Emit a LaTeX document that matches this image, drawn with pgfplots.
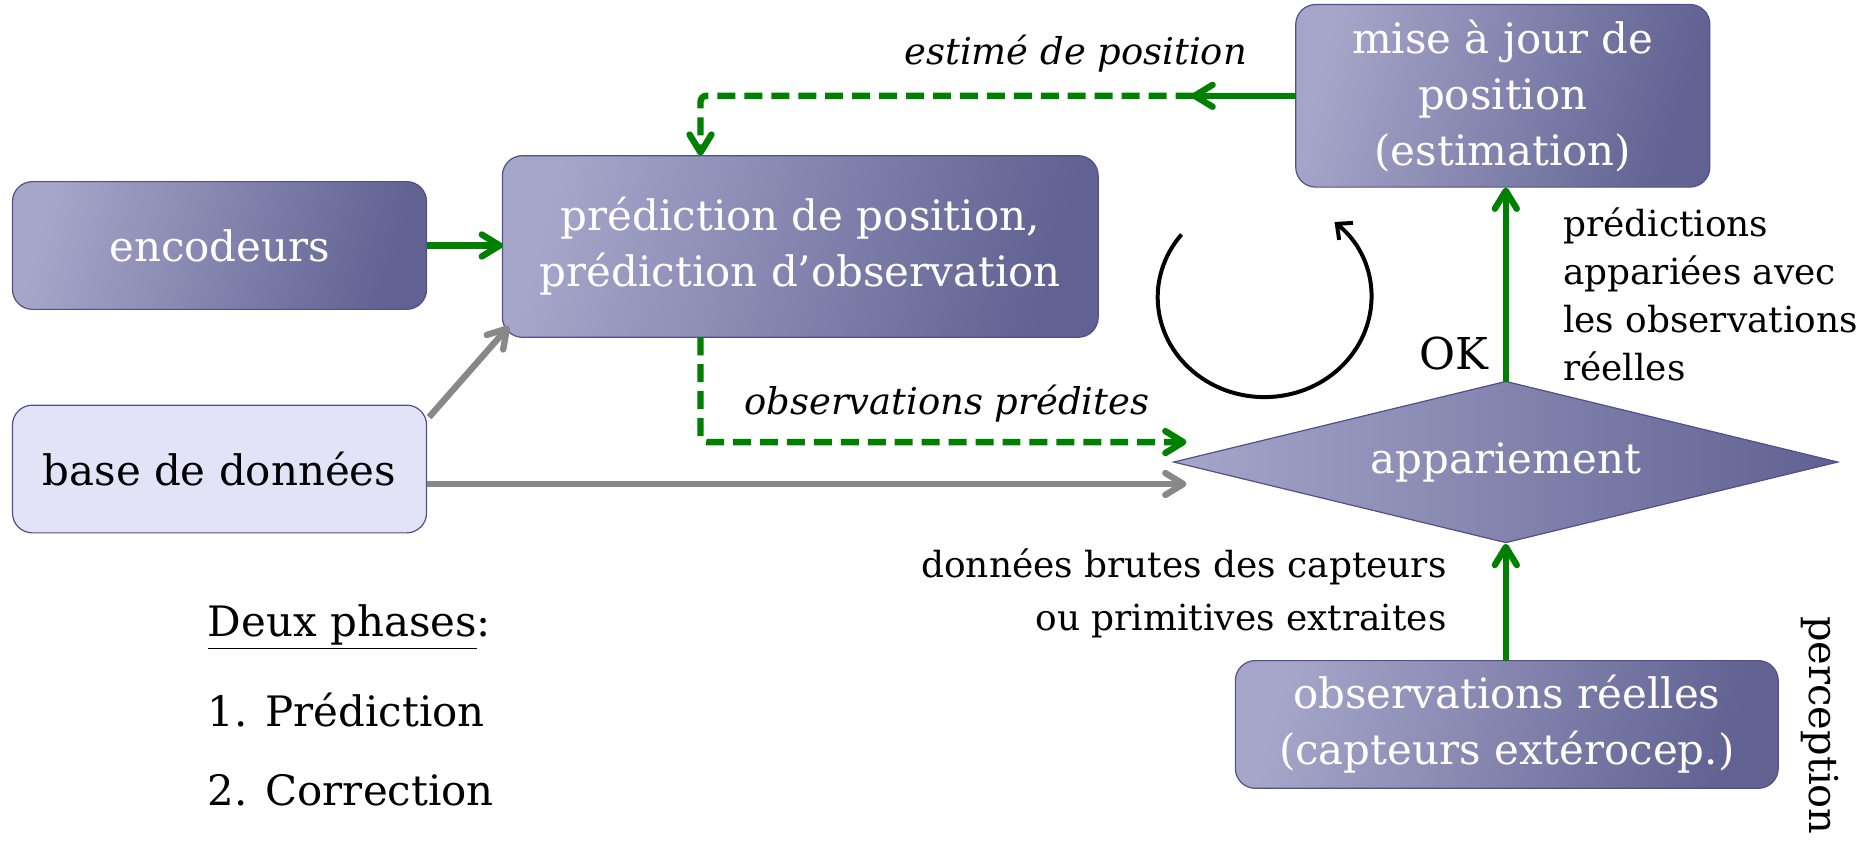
\documentclass[border=0pt]{standalone}
\usepackage{pgfplots}
\pgfplotsset{compat=1.18}
\usepackage{fontspec}
\setmainfont{DejaVu Serif}
\usetikzlibrary{arrows.meta,shapes.geometric}
\definecolor{boxL}{HTML}{A6A6CA}
\definecolor{boxR}{HTML}{616192}
\definecolor{boxE}{HTML}{50508C}
\definecolor{baseF}{HTML}{E3E3F7}
\definecolor{grn}{HTML}{008000}
\definecolor{gry}{HTML}{888888}
\newcommand\bx{\fontsize{21}{28}\selectfont}
\newcommand\lb{\fontsize{18}{24}\selectfont}
\tikzset{
  box/.style={draw=boxE, line width=0.6pt, rounded corners=10pt, left color=boxL, right color=boxR, shading angle=75, text=white, align=center, inner sep=0pt, font=\bx},
  garr/.style={grn, line width=3.2pt, -{Straight Barb[length=9pt, width=11pt, round]}},
  gyarr/.style={gry, line width=3.2pt, -{Straight Barb[length=9pt, width=11pt, round]}},
  dsh/.style={dash pattern=on 9pt off 4.5pt, rounded corners=3pt},
}
\begin{document}
\begin{tikzpicture}
\begin{axis}[
  width=929pt, height=421.5pt, scale only axis,
  xmin=0, xmax=1858, ymin=0, ymax=843, y dir=reverse,
  hide axis, clip=false,
]
\path (axis cs:0,0) rectangle (axis cs:1858,843);
% boxes
\node[box, minimum width=207.5pt, minimum height=64pt] at (axis cs:220,246) {encodeurs};
\node[box, minimum width=298.5pt, minimum height=91pt] at (axis cs:802,247) {prédiction de position,\\prédiction d’observation};
\node[box, minimum width=207.5pt, minimum height=91.5pt] at (axis cs:1506,96) {mise à jour de\\position\\(estimation)};
\node[box, left color=baseF, right color=baseF, text=black, minimum width=207.5pt, minimum height=64pt] at (axis cs:220,470) {base de données};
\node[box, minimum width=272pt, minimum height=64pt] at (axis cs:1510,726) {observations réelles\\(capteurs extérocep.)};
\node[diamond, aspect=4.1, draw=boxE, line width=0.6pt, left color=boxL, right color=boxR, text=white, inner sep=0pt, minimum width=333pt, minimum height=81pt, font=\bx] at (axis cs:1509,463) {appariement};
% arrows
\addplot[garr] coordinates {(428,246) (504,246)};
\addplot[garr, line cap=butt] coordinates {(1299,96) (1194,96)};
\addplot[garr, dsh] coordinates {(1196,96) (702,96) (702,156)};
\addplot[garr, dsh] coordinates {(702,338) (702,443) (1189,443)};
\addplot[gyarr] coordinates {(428,485) (1189,485)};
\addplot[gyarr] coordinates {(430,418) (510,327)};
\addplot[garr] coordinates {(1509,383) (1509,188)};
\addplot[garr] coordinates {(1509,662) (1509,545)};
\draw[black, line width=2pt, -{Straight Barb[length=6pt, width=11pt]}] (axis cs:1184,235) arc[start angle=141, end angle=409, x radius=53.5pt, y radius=50pt];
% labels
\node[inner sep=0pt, anchor=base east, font=\fontsize{18.5}{24}\selectfont\itshape] at (axis cs:1250,65) {estimé de position};
\node[inner sep=0pt, anchor=base east, font=\fontsize{18.5}{24}\selectfont\itshape] at (axis cs:1152,415) {observations prédites};
\node[inner sep=0pt, anchor=base east, font=\fontsize{22}{24}\selectfont] at (axis cs:1492,370) {OK};
\node[anchor=north west, font=\lb, align=left, inner sep=0pt] at (axis cs:1566,208) {prédictions\\appariées avec\\les observations\\réelles};
\node[anchor=north east, font=\fontsize{18}{26.5}\selectfont, align=right, inner sep=0pt] at (axis cs:1450,550) {données brutes des capteurs\\ou primitives extraites};
\node[inner sep=0pt, anchor=base west, font=\bx] at (axis cs:208,638) {\underline{Deux phases}:};
\node[inner sep=0pt, anchor=base west, font=\bx] at (axis cs:208,728) {1. Prédiction};
\node[inner sep=0pt, anchor=base west, font=\bx] at (axis cs:208,807) {2. Correction};
\node[rotate=-90, font=\fontsize{20}{24}\selectfont] at (axis cs:1824,727) {perception};
\end{axis}
\end{tikzpicture}
\end{document}
